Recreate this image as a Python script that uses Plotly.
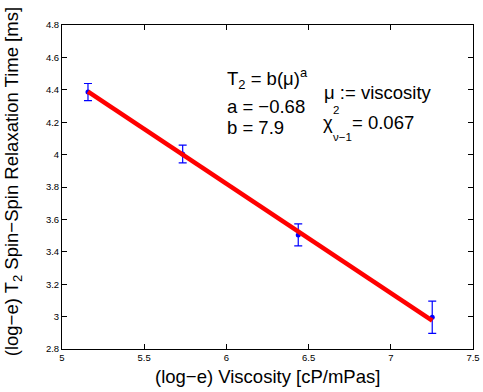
import plotly.graph_objects as go

# Data (log-e viscosity vs log-e T2)
log_visc = [5.158, 5.734, 6.437, 7.252]
log_t2 = [4.386, 4.004, 3.504, 2.996]
log_t2_err = [0.053, 0.055, 0.068, 0.100]

# Fit parameters (line: y = b + a*x)
fit_a = -0.675
fit_b = 7.87

x_ticks = [5, 5.5, 6, 6.5, 7, 7.5]
y_ticks = [2.8, 3, 3.2, 3.4, 3.6, 3.8, 4, 4.2, 4.4, 4.6, 4.8]

fit_x = [min(log_visc), max(log_visc)]
fit_y = [fit_b + fit_a * v for v in fit_x]

FONT = "Liberation Sans, Arial, Helvetica, sans-serif"

fig = go.Figure()
fig.add_trace(go.Scatter(
    x=log_visc, y=log_t2, mode="markers",
    marker=dict(color="#0000ff", size=5),
    error_y=dict(type="data", array=log_t2_err, visible=True,
                 color="#0000ff", thickness=1.2, width=4),
    showlegend=False,
))
fig.add_trace(go.Scatter(
    x=fit_x, y=fit_y, mode="lines",
    line=dict(color="#ff0000", width=4.5),
    showlegend=False,
))

ann_font = dict(family=FONT, size=18.5, color="black")
small_font = dict(family=FONT, size=11.5, color="black")
texts = [
    ("T<sub>2</sub> = b(μ)<sup>a</sup>", 5.99, 4.47, ann_font),
    ("a = −0.68", 5.99, 4.30, ann_font),
    ("b = 7.9", 5.99, 4.165, ann_font),
    ("μ := viscosity", 6.58, 4.385, ann_font),
    ("χ", 6.575, 4.20, ann_font),
    ("2", 6.636, 4.275, small_font),
    ("ν−1", 6.636, 4.11, small_font),
    ("= 0.067", 6.752, 4.20, ann_font),
]
for t, xx, yy, f in texts:
    fig.add_annotation(x=xx, y=yy, xref="x", yref="y", text=t,
                       showarrow=False, xanchor="left", yanchor="middle",
                       font=f)

title_font = dict(family=FONT, size=18.5, color="black")
fig.add_annotation(x=0.5, y=-0.086, xref="paper", yref="paper",
                   text="(log−e) Viscosity [cP/mPas]", showarrow=False,
                   xanchor="center", yanchor="middle", font=title_font)
fig.add_annotation(x=-0.119, y=0.515, xref="paper", yref="paper",
                   text="(log−e) T<sub>2</sub> Spin−Spin Relaxation Time [ms]",
                   showarrow=False, textangle=-90,
                   xanchor="center", yanchor="middle", font=title_font)

axis_common = dict(
    showline=True, linecolor="black", linewidth=1, mirror="ticks",
    ticks="inside", ticklen=5, tickcolor="black", tickwidth=1,
    showgrid=False, zeroline=False, automargin=False,
    tickfont=dict(family=FONT, size=9.5, color="black"),
)
fig.update_xaxes(range=[5, 7.5], tickvals=x_ticks,
                 ticktext=[f"{v:g}" for v in x_ticks], **axis_common)
fig.update_yaxes(range=[2.8, 4.8], tickvals=y_ticks,
                 ticktext=[f"{v:g}" for v in y_ticks], **axis_common)

fig.update_layout(
    width=483, height=392,
    margin=dict(l=62, r=10, t=25, b=43),
    paper_bgcolor="white", plot_bgcolor="white",
    font=dict(family=FONT, color="black"),
)

fig.write_html("out.html")
